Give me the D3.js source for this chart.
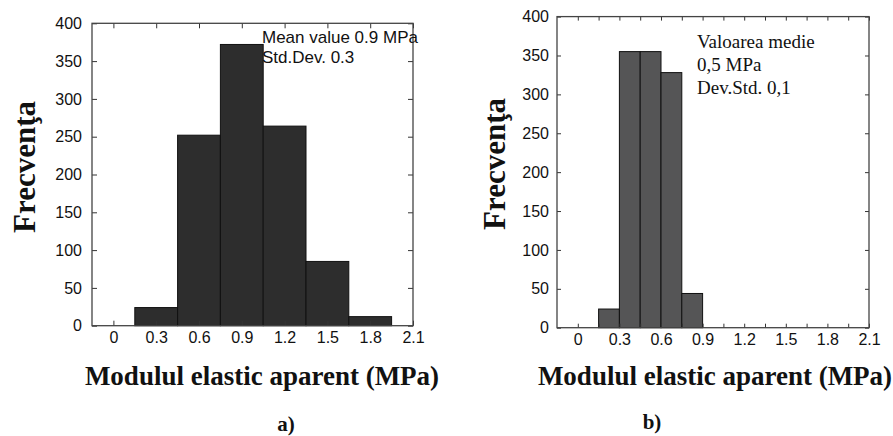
<!DOCTYPE html>
<html>
<head>
<meta charset="utf-8">
<script src="https://cdn.jsdelivr.net/npm/d3@7"></script>
<style>
  html, body { margin: 0; padding: 0; background: #fff; }
  svg { display: block; }
</style>
</head>
<body>
<svg id="chart" width="893" height="436"></svg>
<script>
// ---------- data ----------
const binStartsA = [0.15, 0.45, 0.75, 1.05, 1.35, 1.65];
const binWidthA = 0.3;
const countsA = [24, 252, 372, 264, 85, 12];

const binStartsB = [0.15, 0.30, 0.45, 0.60, 0.75];
const binWidthB = 0.15;
const countsB = [24, 355, 355, 328, 44];

const xMajorTicks = [0, 0.3, 0.6, 0.9, 1.2, 1.5, 1.8, 2.1];
const xMajorLabels = ["0", "0.3", "0.6", "0.9", "1.2", "1.5", "1.8", "2.1"];
const xAllTicksB = [0, 0.15, 0.3, 0.45, 0.6, 0.75, 0.9, 1.05, 1.2, 1.35, 1.5, 1.65, 1.8, 1.95, 2.1];
const yTicks = [0, 50, 100, 150, 200, 250, 300, 350, 400];

const xTitle = "Modulul elastic aparent (MPa)";
const yTitle = "Frecvenţa";
const noteA = ["Mean value 0.9 MPa", "Std.Dev. 0.3"];
const noteB = ["Valoarea medie", "0,5 MPa", "Dev.Std. 0,1"];
const panelLabels = ["a)", "b)"];

// ---------- drawing ----------
const svg = d3.select("#chart");
const sans = "'Liberation Sans', Arial, sans-serif";
const serif = "'Liberation Serif', 'Times New Roman', serif";

function labelFor(v) {
  const i = xMajorTicks.findIndex(t => Math.abs(t - v) < 1e-9);
  return i >= 0 ? xMajorLabels[i] : "";
}

function panel(cfg) {
  const x = d3.scaleLinear().domain([-0.15, 2.1]).range([cfg.left, cfg.right]);
  const y = d3.scaleLinear().domain([0, 400]).range([cfg.bottom, cfg.top]);
  const g = svg.append("g");

  // bars
  g.selectAll("rect.bar")
    .data(cfg.starts.map((s, i) => ({ s, c: cfg.counts[i] })))
    .join("rect")
    .attr("class", "bar")
    .attr("x", d => x(d.s))
    .attr("width", d => x(d.s + cfg.bw) - x(d.s))
    .attr("y", d => y(d.c))
    .attr("height", d => y(0) - y(d.c))
    .attr("fill", cfg.fill)
    .attr("stroke", "#111")
    .attr("stroke-width", 1);

  const tl = cfg.tickLen;
  const gb = g.append("g").attr("transform", `translate(0,${cfg.bottom})`)
    .call(d3.axisBottom(x).tickValues(cfg.xTicks).tickSize(-tl).tickPadding(cfg.xPad)
      .tickFormat(labelFor));
  const gt = g.append("g").attr("transform", `translate(0,${cfg.top})`)
    .call(d3.axisTop(x).tickValues(cfg.xTicks).tickSize(-tl).tickFormat(""));
  const gl = g.append("g").attr("transform", `translate(${cfg.left},0)`)
    .call(d3.axisLeft(y).tickValues(yTicks).tickSize(-tl).tickPadding(cfg.yPad));
  const gr = g.append("g").attr("transform", `translate(${cfg.right},0)`)
    .call(d3.axisRight(y).tickValues(yTicks).tickSize(-tl).tickFormat(""));

  [gb, gt, gl, gr].forEach(a => {
    a.select(".domain").remove();
    a.selectAll(".tick line").attr("stroke", "#333").attr("stroke-width", 1);
    a.selectAll(".tick text").attr("fill", "#111").style("font-family", sans)
      .style("font-size", cfg.tickFont + "px");
  });

  // frame
  g.append("rect")
    .attr("x", cfg.left).attr("y", cfg.top)
    .attr("width", cfg.right - cfg.left).attr("height", cfg.bottom - cfg.top)
    .attr("fill", "none").attr("stroke", "#444").attr("stroke-width", 1.3);

  // annotation
  const ann = g.append("text")
    .attr("x", cfg.noteX).attr("y", cfg.noteY)
    .style("font-family", cfg.noteFamily).style("font-size", cfg.noteFont + "px")
    .attr("fill", "#111");
  cfg.note.forEach((t, i) => {
    ann.append("tspan").attr("x", cfg.noteX).attr("y", cfg.noteY + i * cfg.noteLH).text(t);
  });

  // y title
  g.append("text")
    .attr("transform", `translate(${cfg.yTitleX},${cfg.yTitleY}) rotate(-90)`)
    .attr("text-anchor", "start")
    .style("font-family", serif).style("font-weight", "bold").style("font-size", "31px")
    .attr("fill", "#111")
    .text(yTitle);

  // x title
  g.append("text")
    .attr("x", cfg.xTitleX).attr("y", 385)
    .attr("text-anchor", "middle")
    .style("font-family", serif).style("font-weight", "bold").style("font-size", "27px")
    .attr("fill", "#111")
    .text(xTitle);

  // panel label
  g.append("text")
    .attr("x", cfg.panelX).attr("y", cfg.panelY)
    .attr("text-anchor", "middle")
    .style("font-family", serif).style("font-weight", "bold").style("font-size", "21px")
    .attr("fill", "#111")
    .text(cfg.panelLabel);
}

panel({
  left: 92, right: 413, top: 23.3, bottom: 325.7,
  starts: binStartsA, counts: countsA, bw: binWidthA, fill: "#2d2d2d",
  xTicks: xMajorTicks, tickLen: 5, xPad: 6, yPad: 10, tickFont: 16,
  note: noteA, noteX: 262, noteY: 43, noteLH: 20, noteFont: 17, noteFamily: sans,
  yTitleX: 35, yTitleY: 233, xTitleX: 262, panelX: 286, panelY: 431, panelLabel: panelLabels[0]
});

panel({
  left: 557, right: 869, top: 16.6, bottom: 327.7,
  starts: binStartsB, counts: countsB, bw: binWidthB, fill: "#555556",
  xTicks: xAllTicksB, tickLen: 4, xPad: 6, yPad: 8, tickFont: 16,
  note: noteB, noteX: 697, noteY: 48, noteLH: 23, noteFont: 19, noteFamily: serif,
  yTitleX: 505, yTitleY: 230, xTitleX: 715, panelX: 652, panelY: 429, panelLabel: panelLabels[1]
});
</script>
</body>
</html>
